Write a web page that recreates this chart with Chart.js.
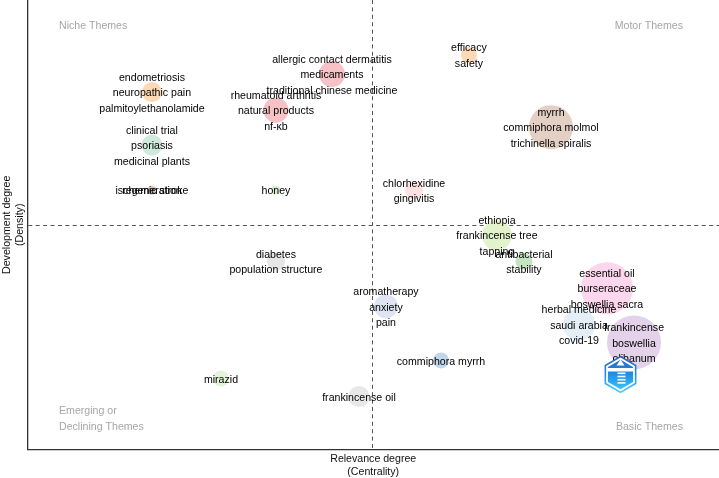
<!DOCTYPE html>
<html lang="en">
<head>
<meta charset="UTF-8">
<title>Thematic map</title>
<script src="https://cdn.jsdelivr.net/npm/chart.js"></script>
<style>
  html, body { margin: 0; padding: 0; background: #fff; }
  #wrap { width: 719px; height: 478px; }
</style>
</head>
<body>
<div id="wrap"><canvas id="map"></canvas></div>
<script>
// one entry per cluster (units are arbitrary)
const centrality = [96.5, -40.5, -220.5, -96.5, 178.5, -220.5, -220.5, -96.5, 41.5, 124.5, 151.5, -96.5, 234.5, 13.5, 206.5, 261.5, 68.5, -151.5, -13.5];
const density = [170, 151, 133, 115, 98, 80, 35, 35, 35, -10, -36, -36, -63, -81, -99, -117, -135, -153, -171];
const bubbleSize = [8, 13, 10, 12.5, 22, 10.5, 4.5, 4.5, 9, 15, 8.5, 9, 26, 12, 16, 27, 8, 8, 10.5];
const bubbleColors = ['#fdd9b5', '#f7c2c5', '#fdd9b5', '#f7c2c5', '#e3cfc4', '#cfe9dd', '#d8c9c5', '#d5efcf', '#fce0e2', '#e2f3cc', '#c5e4c1', '#e6e6e6', '#fbd6ec', '#dfe4f2', '#e4eef7', '#e3d2e9', '#c0d7ec', '#e3f3d9', '#e8e8e8'];
const clusterLabels = [
  ['efficacy', 'safety'],
  ['allergic contact dermatitis', 'medicaments', 'traditional chinese medicine'],
  ['endometriosis', 'neuropathic pain', 'palmitoylethanolamide'],
  ['rheumatoid arthritis', 'natural products', 'nf-κb'],
  ['myrrh', 'commiphora molmol', 'trichinella spiralis'],
  ['clinical trial', 'psoriasis', 'medicinal plants'],
  ['ischemic stroke'],
  ['honey'],
  ['chlorhexidine', 'gingivitis'],
  ['ethiopia', 'frankincense tree', 'tapping'],
  ['antibacterial', 'stability'],
  ['diabetes', 'population structure'],
  ['essential oil', 'burseraceae', 'boswellia sacra'],
  ['aromatherapy', 'anxiety', 'pain'],
  ['herbal medicine', 'saudi arabia', 'covid-19'],
  ['frankincense', 'boswellia', 'olibanum'],
  ['commiphora myrrh'],
  ['mirazid'],
  ['frankincense oil']
];
// second label sitting on top of ischemic stroke
const overlapLabel = 'regeneration';
const quadrantLabels = [
  { lines: ['Niche Themes'], x: 59, y: 26.5, align: 'left' },
  { lines: ['Motor Themes'], x: 683, y: 26.5, align: 'right' },
  { lines: ['Emerging or', 'Declining Themes'], x: 59, y: 411.5, align: 'left' },
  { lines: ['Basic Themes'], x: 683, y: 427, align: 'right' }
];

const points = centrality.map((c, i) => ({ x: c, y: density[i], r: bubbleSize[i] }));

const labelPlugin = {
  id: 'labelPlugin',
  afterDatasetsDraw(chart) {
    const { ctx, scales } = chart;
    ctx.save();
    ctx.textBaseline = 'middle';
    ctx.textAlign = 'center';
    ctx.font = '10.6px "Liberation Sans"';
    ctx.fillStyle = '#000';
    clusterLabels.forEach((lines, i) => {
      const px = scales.x.getPixelForValue(centrality[i]);
      const py = scales.y.getPixelForValue(density[i]) + 1.2;
      lines.forEach((t, k) => {
        ctx.fillText(t, px, py + (k - (lines.length - 1) / 2) * 15.5);
      });
      if (i === 6) ctx.fillText(overlapLabel, px, py);
    });
    ctx.fillStyle = '#a6a6a6';
    quadrantLabels.forEach(q => {
      ctx.textAlign = q.align;
      q.lines.forEach((t, k) => ctx.fillText(t, q.x, q.y + k * 15.5));
    });
    ctx.restore();
    drawLogo(ctx, 620.5, 374.5);
  }
};

// small blue hexagon watermark
function drawLogo(ctx, cx, cy) {
  ctx.save();
  const hex = r => {
    ctx.beginPath();
    for (let i = 0; i < 6; i++) {
      const a = Math.PI / 3 * i - Math.PI / 2;
      ctx.lineTo(cx + r * Math.cos(a), cy + r * Math.sin(a) * 1.02);
    }
    ctx.closePath();
  };
  const g = ctx.createLinearGradient(0, cy - 18, 0, cy + 18);
  g.addColorStop(0, '#2b62c0');
  g.addColorStop(0.5, '#1f8fe8');
  g.addColorStop(1, '#3fd0f8');
  hex(17.5);
  ctx.fillStyle = '#fff';
  ctx.fill();
  ctx.strokeStyle = g;
  ctx.lineWidth = 1.6;
  ctx.stroke();
  hex(14.5);
  ctx.fillStyle = g;
  ctx.fill();
  ctx.fillStyle = '#fff';
  ctx.fillRect(cx - 13, cy - 6.5, 26, 3.5);
  for (let k = 0; k < 4; k++) ctx.fillRect(cx - 3, cy - 2 + k * 3.2, 8, 1.6);
  ctx.beginPath();
  ctx.moveTo(cx, cy - 15);
  ctx.lineTo(cx + 4, cy - 9);
  ctx.lineTo(cx - 4, cy - 9);
  ctx.fill();
  ctx.restore();
}

new Chart(document.getElementById('map'), {
  type: 'bubble',
  data: {
    datasets: [{
      data: points,
      backgroundColor: bubbleColors,
      borderWidth: 0,
      clip: false
    }]
  },
  options: {
    responsive: true,
    maintainAspectRatio: false,
    animation: false,
    layout: { autoPadding: false, padding: { left: 1 } },
    plugins: { legend: { display: false }, tooltip: { enabled: false } },
    scales: {
      x: {
        type: 'linear',
        min: -345,
        max: 346.5,
        afterBuildTicks: s => { s.ticks = [{ value: 0 }]; },
        ticks: { display: false },
        border: { display: true, color: '#333', width: 1.3, dash: [4, 3.4] },
        grid: { color: '#555', lineWidth: 1, drawTicks: false },
        title: {
          display: true,
          text: ['Relevance degree', '(Centrality)'],
          color: '#111',
          font: { family: 'Liberation Sans', size: 10.6 },
          padding: { top: 3, bottom: 0 }
        }
      },
      y: {
        type: 'linear',
        min: -224,
        max: 225,
        afterBuildTicks: s => { s.ticks = [{ value: 0 }]; },
        ticks: { display: false },
        border: { display: true, color: '#333', width: 1.3, dash: [4, 3.4] },
        grid: { color: '#555', lineWidth: 1, drawTicks: false },
        title: {
          display: true,
          text: ['Development degree', '(Density)'],
          color: '#111',
          font: { family: 'Liberation Sans', size: 10.6 },
          padding: { top: 0, bottom: 1 }
        }
      }
    }
  },
  plugins: [labelPlugin]
});
</script>
</body>
</html>
